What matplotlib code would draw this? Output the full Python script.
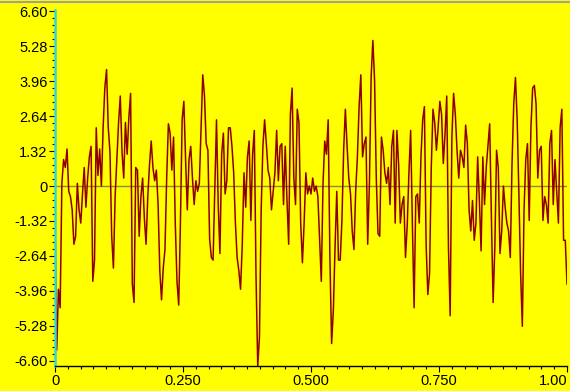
import numpy as np
import matplotlib
matplotlib.use("Agg")
import matplotlib.pyplot as plt
from matplotlib.ticker import MultipleLocator

# signal, left to right, in segments of about 85 px
seg1 = [-1.3, -6.2, -3.9, -4.6, 0.1, 1.0, 0.7, 1.4, -0.2, -0.4, -0.9, -2.2, -1.9, 0.1,
        -0.9, -1.4, -0.3, 0.7, -0.8, 0.3, 1.1, 1.5, -3.6, -2.8, 2.2, 0.4, 1.4, 0.0, 2.2,
        3.7, 4.4, 2.2, 1.3, -1.9, -3.1, -0.4, 1.0, 2.4, 3.4, 1.3, 0.3, 2.4, 1.2, 2.6, 3.5,
        -3.7, -4.4, 0.7, 0.6, -1.9, -0.4]
seg2 = [0.3, -1.2, -2.2, -0.4, 0.8, 1.7, 0.7, 0.2, 0.6, -0.7, -3.2, -4.3, -3.1, -2.4,
        0.3, 2.35, 2.0, 0.6, 1.85, -1.4, -3.6, -4.5, -1.4, 2.5, 3.2, 1.0, -0.9, 1.0, 1.5,
        0.3, -0.7, 0.2, -0.2, 0.1, 2.2, 4.2, 3.4, 1.6, 1.35, -2.0, -2.7, -2.8, -0.2, 2.5,
        -0.7, -2.55, 1.2, 2.0, -0.3, 0.2, 2.2]
seg3 = [2.2, 1.5, 0.5, -1.4, -2.7, -3.2, -3.9, -2.2, 0.5, -0.8, 1.1, 1.7, -1.3, 1.2, 2.1,
        -3.4, -6.8, -5.7, -0.9, 1.5, 2.5, 1.6, 0.6, 0.3, -0.9, -0.2, 0.5, 2.1, 0.2, 1.5,
        1.6, -0.7, 1.5, -0.5, -2.2, 2.7, 3.7, 0.3, -0.7, 2.9, 2.4, -1.4, -2.9, -1.4, 0.5,
        -0.3, -0.0, -0.3]
seg4 = [0.3, -0.2, -0.0, -0.4, -2.05, -3.6, 0.1, 1.7, 1.2, 2.5, -2.7, -5.95, -4.7, -2.3,
        -0.2, -2.8, -2.8, -1.3, 1.35, 2.9, 1.5, 0.3, -0.3, -1.7, -2.4, -0.2, 1.1, 3.0, 4.2,
        1.1, 1.6, 1.85, -2.2, 0.1, 4.1, 5.5, 4.0, 0.3, -1.8, -1.9, 1.85, 1.35, 0.5, 0.1,
        0.7, -0.7, 1.5, 2.1, -1.4]
seg5 = [2.1, 0.8, -1.4, -0.7, -0.4, -2.7, -1.5, 0.5, 2.1, -1.4, -4.6, -0.4, -0.3, -1.4,
        1.1, 2.5, 3.0, -2.2, -4.1, -3.3, 0.7, 2.9, 2.4, 1.35, 2.2, 3.2, 2.7, 0.85, 1.95, 3.4,
        -2.3, -4.9, 1.85, 3.5, 2.7, 1.35, 0.3, 1.35, 1.1, 0.7, 2.3, 1.6, -0.9, -1.7, -0.55,
        -2.05, -1.4, 1.1, -0.55]
seg6 = [-2.45, 1.1, -0.7, 0.7, 1.5, 2.35, -1.2, -4.4, -2.3, 1.35, 0.7, -2.55, -1.7, -0.0,
        -0.8, -1.4, -1.7, -2.7, 0.85, 3.1, 4.1, 2.5, -0.3, -3.3, -5.3, -0.9, 1.0, 1.6, -1.3,
        2.2, 3.7, 3.8, 3.1, 0.3, 1.35, 1.5, -1.3, -0.4, -0.7, -1.4, 1.6, 2.1, -0.7, 1.0,
        -0.2, -1.4, 2.2, 2.9, -2.05, -2.05, -3.7]

signal = seg1 + seg2 + seg3 + seg4 + seg5 + seg6
x = np.linspace(0, 1, len(signal))

yticks = [6.60, 5.28, 3.96, 2.64, 1.32, 0, -1.32, -2.64, -3.96, -5.28, -6.60]
ylabels = ["6.60", "5.28", "3.96", "2.64", "1.32", "0", "-1.32", "-2.64", "-3.96", "-5.28", "-6.60"]
xticks = [0, 0.25, 0.5, 0.75, 1.0]
xlabels = ["0", "0.250", "0.500", "0.750", "1.00"]

plt.rcParams['font.family'] = ['Liberation Sans', 'DejaVu Sans']
yellow = '#ffff00'

fig = plt.figure(figsize=(5.7, 3.91), dpi=100, facecolor=yellow)
ax = fig.add_axes([55/570, 25/391, 512/570, 356/391], facecolor=yellow)

ax.axhline(0, color='#8a8a40', lw=1.0, zorder=1)
ax.plot(x, signal, color='#8e0000', lw=1.1, zorder=2)

ax.set_xlim(0, 1.0)
ax.set_ylim(-6.8, 6.65)
ax.set_yticks(yticks)
ax.set_yticklabels(ylabels)
ax.set_xticks(xticks)
ax.set_xticklabels(xlabels)
ax.get_xticklabels()[-1].set_horizontalalignment('right')
ax.yaxis.set_minor_locator(MultipleLocator(0.264))
ax.xaxis.set_minor_locator(MultipleLocator(0.025))
ax.tick_params(axis='both', which='major', length=4.5, width=0.8, labelsize=10.5, pad=1)
ax.tick_params(axis='both', which='minor', length=2.5, width=0.8)

for s in ['top', 'right']:
    ax.spines[s].set_visible(False)
ax.spines['bottom'].set_linewidth(1.0)
ax.spines['left'].set_color('#30d8d8')
ax.spines['left'].set_linewidth(1.8)

# thin grey frame line along the top of the window
fig.add_artist(plt.Line2D([0, 1], [0.995, 0.995], color='#a0a0a0', lw=1.5))

fig.savefig('out.png', dpi=100, facecolor=yellow)
